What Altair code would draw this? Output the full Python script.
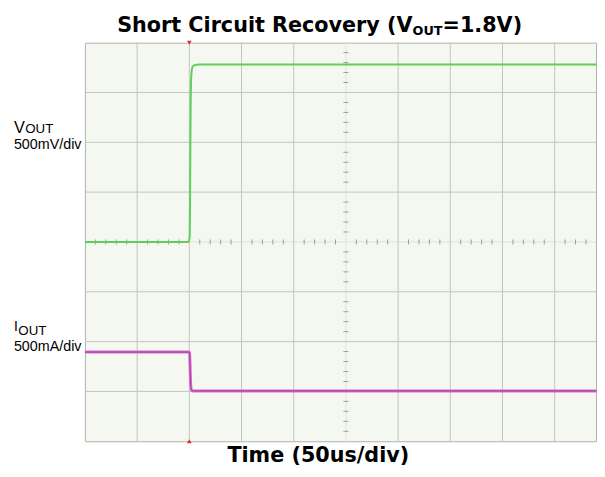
import altair as alt
import pandas as pd

# ---- data (time in microseconds, 50us/div) ----
time_us = [0, 99, 100.4, 100.8, 101.2, 101.8, 102.6, 104, 110, 490]
vout_V = [0, 0, 0.05, 0.6, 1.3, 1.65, 1.74, 1.77, 1.78, 1.78]
iout_t = [0, 99.5, 100.2, 100.6, 101.0, 101.5, 102.2, 104, 490]
iout_mA = [395, 395, 390, 300, 150, 40, 10, 5, 5]

V_PER_DIV = 0.5     # 500mV/div
I_PER_DIV = 500     # 500mA/div
V_ZERO_DIV = 4
I_ZERO_DIV = 1

X_MAX = 489.6
N_YDIV = 8

W, H = 518, 404

grid_x = [50, 100, 150, 200, 300, 350, 400, 450]
grid_y = [1, 2, 3, 5, 6, 7]
minor_x = [i * 10 for i in range(0, 49) if i % 5 != 0]
minor_y = [i * 0.2 for i in range(1, 40) if i % 5 != 0]

x_scale = alt.Scale(domain=[0, X_MAX], nice=False, zero=False)
y_scale = alt.Scale(domain=[0, N_YDIV], nice=False, zero=False)
X = lambda f: alt.X(f, type="quantitative", scale=x_scale, axis=None)
Y = lambda f: alt.Y(f, type="quantitative", scale=y_scale, axis=None)

grid_col = "#c2c4c0"

vgrid = alt.Chart(pd.DataFrame({"t": grid_x})).mark_rule(
    color=grid_col, strokeWidth=1).encode(x=X("t"), y=alt.value(0), y2=alt.value(H))
hgrid = alt.Chart(pd.DataFrame({"d": grid_y})).mark_rule(
    color=grid_col, strokeWidth=1).encode(y=Y("d"), x=alt.value(0), x2=alt.value(W))

center_h = alt.Chart(pd.DataFrame({"d": [4]})).mark_rule(
    color="#dcdedb", strokeWidth=1).encode(y=Y("d"), x=alt.value(0), x2=alt.value(W))
center_v = alt.Chart(pd.DataFrame({"t": [250]})).mark_rule(
    color="#e2e4e1", strokeWidth=1).encode(x=X("t"), y=alt.value(0), y2=alt.value(H))

mx = pd.DataFrame({"t": minor_x, "y1": [3.95] * len(minor_x), "y2": [4.05] * len(minor_x)})
ticks_x = alt.Chart(mx).mark_rule(color="#9a9c99", strokeWidth=1).encode(
    x=X("t"), y=Y("y1"), y2="y2")
my = pd.DataFrame({"d": minor_y, "x1": [247.6] * len(minor_y), "x2": [252.4] * len(minor_y)})
ticks_y = alt.Chart(my).mark_rule(color="#9a9c99", strokeWidth=1).encode(
    y=Y("d"), x=X("x1"), x2="x2")

vdf = pd.DataFrame({"t": time_us, "d": [V_ZERO_DIV + v / V_PER_DIV for v in vout_V]})
idf = pd.DataFrame({"t": iout_t, "d": [I_ZERO_DIV + i / I_PER_DIV for i in iout_mA]})

vline = alt.Chart(vdf).mark_line(color="#5fcf5a", strokeWidth=2, interpolate="monotone").encode(
    x=X("t"), y=Y("d"))
iline_w = alt.Chart(idf).mark_line(color="#e06ad6", strokeWidth=3, interpolate="monotone").encode(
    x=X("t"), y=Y("d"))
iline_c = alt.Chart(idf).mark_line(color="#9a3a8e", strokeWidth=1, interpolate="monotone").encode(
    x=X("t"), y=Y("d"))

trig = pd.DataFrame({"t": [100, 100], "d": [N_YDIV, 0], "s": ["triangle-down", "triangle-up"]})
marker = alt.Chart(trig).mark_point(filled=True, color="#e02a2a", size=22, opacity=1).encode(
    x=X("t"), y=Y("d"), shape=alt.Shape("s:N", scale=None, legend=None))

FONT = "Liberation Sans"
TFONT = "DejaVu Sans"

def txt(s, x, y, size, bold=False, align="left", font=FONT):
    return alt.Chart(pd.DataFrame({"s": [s]})).mark_text(
        text=s, align=align, baseline="alphabetic", fontSize=size,
        fontWeight="bold" if bold else "normal", font=font, color="#000000"
    ).encode(x=alt.value(x), y=alt.value(y))

labels = [
    txt("V", -72, 92, 16.5),
    txt("OUT", -60.5, 92, 13.5),
    txt("500mV/div", -72, 108, 14.5),
    txt("I", -72, 292, 14),
    txt("OUT", -67.5, 296, 13.5),
    txt("500mA/div", -72, 313, 14.5),
    txt("Short Circuit Recovery (V", 332, -11, 21, True, "right", TFONT),
    txt("OUT", 332, -8, 13, True, "left", TFONT),
    txt("=1.8V)", 362.5, -11, 21, True, "left", TFONT),
    txt("Time (50us/div)", 236.5, 425.5, 21, True, "center", TFONT),
]

chart = alt.layer(
    center_h, center_v, vgrid, hgrid, ticks_x, ticks_y,
    vline, iline_w, iline_c, marker, *labels
).properties(
    width=W, height=H,
    padding={"left": 78, "top": 32, "right": 1, "bottom": 25},
    autosize=alt.AutoSizeParams(type="none"),
    background="#ffffff",
).configure_view(fill="#f4f8f1", stroke="#b0b2af", strokeWidth=1)

chart.save("out.html", embed_options={"renderer": "svg", "actions": False})
